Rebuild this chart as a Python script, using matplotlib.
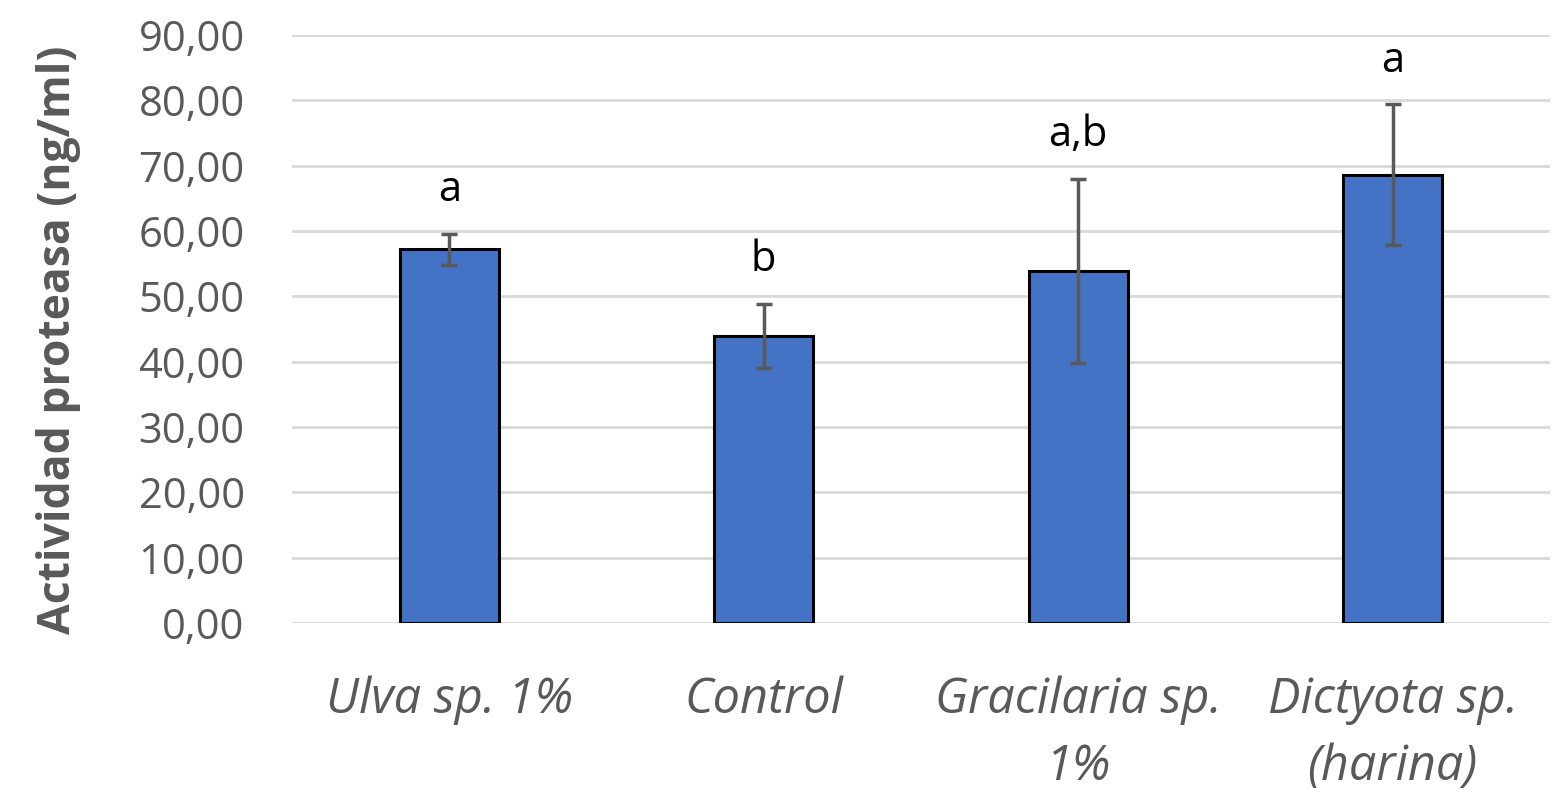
import matplotlib.pyplot as plt

# Datos: actividad proteasa por tratamiento
tratamientos = ['Ulva sp. 1%', 'Control', 'Gracilaria sp.\n1%', 'Dictyota sp.\n(harina)']
actividad = [57.2, 43.9, 53.9, 68.6]
desviacion = [2.4, 4.9, 14.1, 10.8]
letras = ['a', 'b', 'a,b', 'a']
yticks = [0, 10, 20, 30, 40, 50, 60, 70, 80, 90]

plt.rcParams['font.family'] = ['Open Sans', 'DejaVu Sans']

fig = plt.figure(figsize=(15.53, 7.93), dpi=100)
ax = fig.add_axes([0.188, 0.2144, 0.810, 0.7415])

x = range(len(tratamientos))
ax.bar(x, actividad, width=0.315, color='#4472C4', edgecolor='black',
       linewidth=2.2, zorder=3)
ax.errorbar(x, actividad, yerr=desviacion, fmt='none', ecolor='#595959',
            elinewidth=2.5, capsize=6, capthick=2.5, zorder=4)

for xi, v, e, t in zip(x, actividad, desviacion, letras):
    ax.text(xi, v + e + 5, t, ha='center', va='baseline', fontsize=30,
            color='black')

ax.set_xlim(-0.5, len(tratamientos) - 0.5)
ax.set_ylim(0, 90)
ax.set_yticks(yticks)
ax.set_yticklabels([f'{v:.2f}'.replace('.', ',') for v in yticks],
                   fontsize=30, color='#595959')
ax.set_xticks(list(x))
ax.set_xticklabels(tratamientos, fontsize=35, color='#595959', style='italic',
                   linespacing=1.45)
ax.tick_params(axis='both', length=0)
ax.tick_params(axis='x', pad=38)
ax.tick_params(axis='y', pad=34)

ax.set_ylabel('Actividad proteasa (ng/ml)', fontsize=32, fontweight='bold',
              color='#595959')
ax.yaxis.set_label_coords(-0.168, 0.481)

ax.grid(axis='y', color='#D9D9D9', linewidth=2, zorder=0)
for s in ax.spines.values():
    s.set_visible(False)

fig.savefig('out.png', dpi=100)
